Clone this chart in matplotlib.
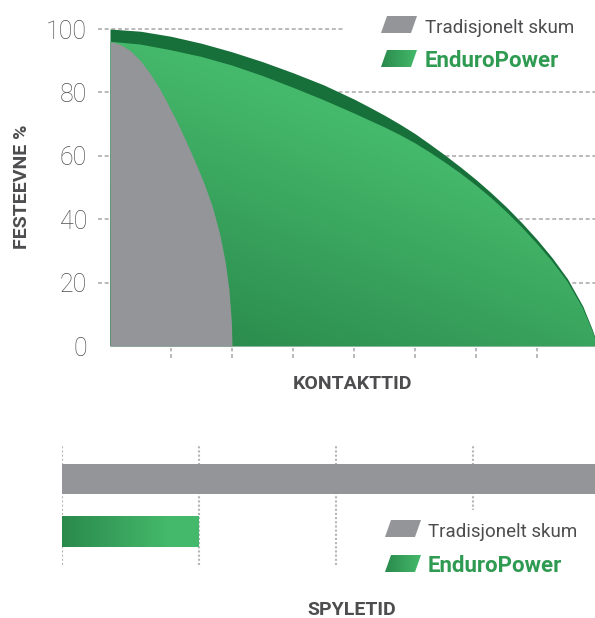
import numpy as np
import matplotlib.pyplot as plt
from matplotlib.patches import Polygon, Rectangle
from matplotlib.colors import LinearSegmentedColormap

plt.rcParams['font.family'] = ['Roboto', 'DejaVu Sans']

# top chart: grip (%) over contact time
y_ticks = [0, 20, 40, 60, 80, 100]
x_marks = [1, 2, 3, 4, 5, 6, 7]

endu_x = [0, 0.5, 1, 1.5, 2, 2.5, 3, 3.5, 4, 4.25, 4.5, 4.75, 5, 5.25, 5.5,
          5.75, 6, 6.25, 6.5, 6.75, 7, 7.25, 7.5, 7.75, 7.9, 8]
endu_outer = [100, 99.3, 97.7, 95.5, 92.8, 89.7, 86.2, 82.4, 77.9, 75.4, 72.8,
              70.0, 67.0, 63.6, 60.1, 56.4, 52.5, 48.3, 43.8, 38.9, 33.6, 27.8,
              21.2, 12.6, 5.5, 0]
endu_inner = [96, 95.1, 93.3, 91.2, 88.5, 85.2, 81.5, 77.6, 73.4, 71.2, 69.0,
              66.6, 64.0, 61.0, 57.8, 54.4, 50.7, 46.7, 42.3, 37.5, 32.3, 26.7,
              20.3, 12.0, 5.2, 0]

trad_x = [0, 0.1, 0.2, 0.33, 0.5, 0.66, 0.8, 0.93, 1.1, 1.26, 1.4, 1.55, 1.68,
          1.8, 1.89, 1.95, 1.99, 2.0]
trad_y = [96, 95.6, 94.8, 93.2, 90.0, 85.9, 81.6, 77.0, 70.6, 64.0, 57.9, 50.9,
          43.8, 35.2, 26.4, 17.8, 7.5, 0]

# bottom chart: rinse time
rinse_labels = ['Tradisjonelt skum', 'EnduroPower']
rinse_values = [4.0, 1.0]
rinse_grid = [0, 1, 2, 3]

GRAY = '#939598'
DARK_GREEN = '#17703a'
TEXT = '#4d4d4f'
GREEN_TEXT = '#2f9b52'
green_cmap = LinearSegmentedColormap.from_list('g', ['#2a8a4c', '#45b96b'])

W, H = 595, 618
fig = plt.figure(figsize=(W / 100, H / 100), dpi=100)

# ---- top chart
px_per_unit = 3.17
top_py = 346 - 102 * px_per_unit
ax1 = fig.add_axes([110 / W, (H - 346) / H, 488 / W, (346 - top_py) / H])
ax1.set_xlim(0, 8)
ax1.set_ylim(0, 102)

ax1.hlines(y_ticks[1:], -0.2, 8, colors='#b4b4b4', linewidth=1.3,
           linestyles=(0, (2.2, 1.5)), clip_on=False, zorder=0)
ax1.vlines(x_marks, -3.8, -0.6, colors='#b4b4b4', linewidth=1.3,
           linestyles=(0, (2.2, 1.5)), clip_on=False)

ax1.fill_between(endu_x, 0, endu_outer, color=DARK_GREEN, linewidth=0, zorder=1)

verts = np.column_stack([np.r_[endu_x, endu_x[::-1]],
                         np.r_[endu_inner, np.zeros(len(endu_x))]])
clip = Polygon(verts, closed=True, facecolor='none', edgecolor='none')
ax1.add_patch(clip)
gx = np.linspace(0, 1, 300)
gy = np.linspace(0, 1, 300)
grad = np.clip((0.6 * gx[None, :] + 1.0 * gy[:, None] - 0.1) / 0.9, 0, 1)
im = ax1.imshow(grad, extent=[0, 8, 0, 100], origin='lower', aspect='auto',
                cmap=green_cmap, vmin=0, vmax=1, zorder=2)
im.set_clip_path(clip)

ax1.fill_between(trad_x, 0, trad_y, color=GRAY, linewidth=0, zorder=3)

ax1.set_xlim(0, 8)
ax1.set_ylim(0, 102)
ax1.set_xticks([])
ax1.set_yticks(y_ticks)
ax1.set_yticklabels([str(v) for v in y_ticks], fontsize=18, fontweight='light',
                    color='#505052')
ax1.tick_params(axis='y', length=0, pad=16.5)
for s in ax1.spines.values():
    s.set_visible(False)
ax1.patch.set_alpha(0)

# ---- bottom chart
unit = 137
ax2 = fig.add_axes([62 / W, (H - 565) / H, 533 / W, 119 / H])
ax2.set_xlim(0, 533 / unit)
ax2.set_ylim(-0.64, 1.63)
ax2.vlines(rinse_grid, -0.64, 1.63, colors='#b5b5b5', linewidth=1.5,
           linestyles=(0, (1.0, 1.0)), zorder=0)
bars = ax2.barh([1, 0], rinse_values, height=0.58, zorder=2)
bars[0].set_facecolor(GRAY)
bars[1].set_facecolor('none')
bgx = np.linspace(0, 1, 300)
bgrad = np.clip(bgx / 0.78, 0, 1)[None, :]
bim = ax2.imshow(bgrad, extent=[0, rinse_values[1], -0.29, 0.29], aspect='auto',
                 cmap=green_cmap, vmin=0, vmax=1, zorder=3)
bim.set_clip_path(bars[1])
ax2.set_xlim(0, 533 / unit)
ax2.set_ylim(-0.64, 1.63)
ax2.axis('off')

# ---- overlay for labels and legends (pixel coordinates)
ax0 = fig.add_axes([0, 0, 1, 1], zorder=10)
ax0.set_xlim(0, W)
ax0.set_ylim(H, 0)
ax0.axis('off')
ax0.patch.set_alpha(0)


def draw_legend(ax, x0, y_gray, y_green, tx):
    sw, sh, sk = 30, 17, 6
    for i, y0 in enumerate([y_gray, y_green]):
        pts = [(x0, y0 + sh), (x0 + sk, y0), (x0 + sk + sw, y0), (x0 + sw, y0 + sh)]
        if i == 0:
            ax.add_patch(Polygon(pts, closed=True, facecolor=GRAY,
                                 edgecolor='none', zorder=3))
        else:
            p = Polygon(pts, closed=True, facecolor='none', edgecolor='none',
                        zorder=3)
            ax.add_patch(p)
            g = ax.imshow(np.linspace(0, 1, 100)[None, :],
                          extent=[x0, x0 + sk + sw, y0 + sh, y0], aspect='auto',
                          cmap=green_cmap, vmin=0, vmax=1, zorder=3)
            g.set_clip_path(p)
    ax.text(tx, y_gray + sh, rinse_labels[0], fontsize=13.5, color=TEXT,
            ha='left', va='baseline', zorder=3)
    ax.text(tx, y_green + sh, rinse_labels[1], fontsize=16, fontweight='bold',
            color=GREEN_TEXT, ha='left', va='baseline', zorder=3)


ax0.add_patch(Rectangle((345, 6), 250, 72, facecolor='white', edgecolor='none',
                        zorder=1))
draw_legend(ax0, 381, 16, 50, 425)
ax0.add_patch(Rectangle((378, 510), 217, 72, facecolor='white', edgecolor='none',
                        zorder=1))
draw_legend(ax0, 385, 520, 555, 428)

ax0.text(22, 187, 'FESTEEVNE %', rotation=90, fontsize=14, fontweight='bold',
         color=TEXT, ha='center', va='center')
ax0.text(352, 384, 'KONTAKTTID', fontsize=14, fontweight='bold', color=TEXT,
         ha='center', va='center')
ax0.text(352, 610, 'SPYLETID', fontsize=14, fontweight='bold', color=TEXT,
         ha='center', va='center')
ax0.set_xlim(0, W)
ax0.set_ylim(H, 0)

fig.savefig('out.png', dpi=100)
